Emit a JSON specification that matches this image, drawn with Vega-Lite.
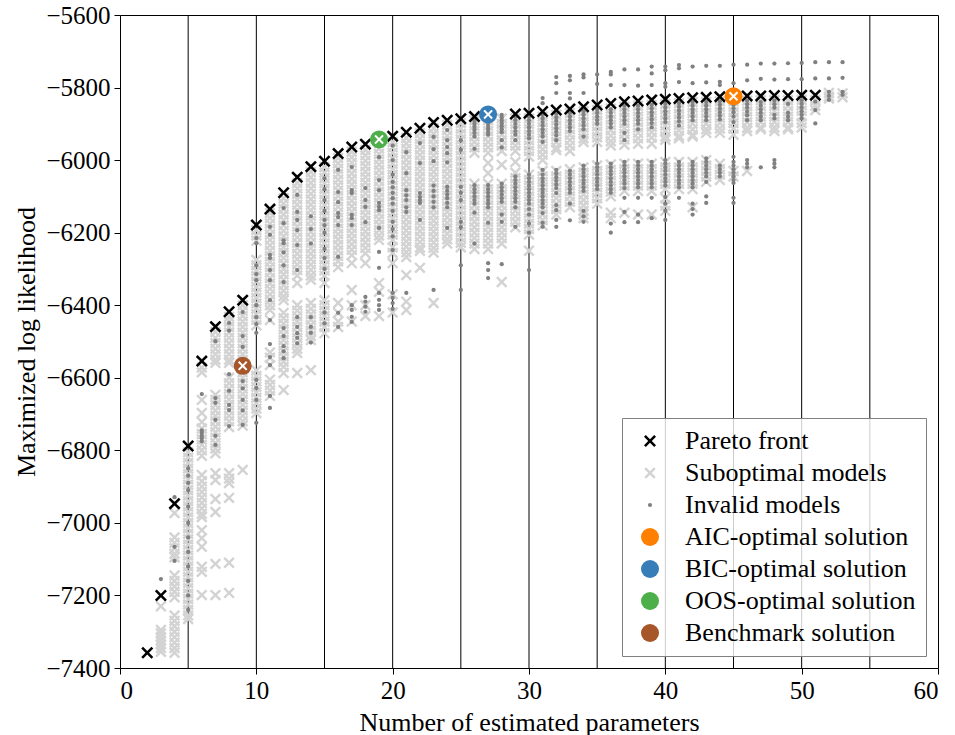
{
"$schema": "https://vega.github.io/schema/vega-lite/v6.json",
"width": 818, "height": 653,
"autosize": {"type": "none"},
"padding": {"left": 120, "top": 15, "right": 17, "bottom": 67},
"config": {
  "view": {"stroke": "#000000", "strokeWidth": 1},
  "font": "Liberation Serif",
  "style": {"guide-label": {"font": "Liberation Serif"}, "guide-title": {"font": "Liberation Serif"}},
  "axis": {"domain": false, "grid": false, "tickColor": "#000000", "tickSize": 6, "tickWidth": 1, "labelColor": "#000000", "titleColor": "#000000", "labelFont": "Liberation Serif", "titleFont": "Liberation Serif", "labelFontSize": 25, "titleFontSize": 26, "titleFontWeight": "normal", "labelPadding": 4}
},
"datasets": {
  "vlines": [{"x":5},{"x":10},{"x":15},{"x":20},{"x":25},{"x":30},{"x":35},{"x":40},{"x":45},{"x":50},{"x":55}],
  "pts": [
{"x":3,"y":-7230,"t":"S"},{"x":3,"y":-7295,"t":"S"},{"x":3,"y":-7305,"t":"S"},{"x":3,"y":-7315,"t":"S"},{"x":3,"y":-7325,"t":"S"},{"x":3,"y":-7335,"t":"S"},{"x":3,"y":-7345,"t":"S"},{"x":3,"y":-7355,"t":"S"},
{"x":4,"y":-6973,"t":"S"},{"x":4,"y":-7040,"t":"S"},{"x":4,"y":-7055,"t":"S"},{"x":4,"y":-7070,"t":"S"},{"x":4,"y":-7085,"t":"S"},{"x":4,"y":-7095,"t":"S"},{"x":4,"y":-7145,"t":"S"},{"x":4,"y":-7160,"t":"S"},{"x":4,"y":-7175,"t":"S"},{"x":4,"y":-7190,"t":"S"},{"x":4,"y":-7205,"t":"S"},{"x":4,"y":-7255,"t":"S"},{"x":4,"y":-7270,"t":"S"},{"x":4,"y":-7285,"t":"S"},{"x":4,"y":-7300,"t":"S"},{"x":4,"y":-7315,"t":"S"},{"x":4,"y":-7330,"t":"S"},{"x":4,"y":-7345,"t":"S"},{"x":4,"y":-7358,"t":"S"},
{"x":5,"y":-6805,"t":"S"},{"x":5,"y":-6820,"t":"S"},{"x":5,"y":-6835,"t":"S"},{"x":5,"y":-6850,"t":"S"},{"x":5,"y":-6865,"t":"S"},{"x":5,"y":-6880,"t":"S"},{"x":5,"y":-6895,"t":"S"},{"x":5,"y":-6910,"t":"S"},{"x":5,"y":-6925,"t":"S"},{"x":5,"y":-6940,"t":"S"},{"x":5,"y":-6955,"t":"S"},{"x":5,"y":-6970,"t":"S"},{"x":5,"y":-6985,"t":"S"},{"x":5,"y":-7000,"t":"S"},{"x":5,"y":-7015,"t":"S"},{"x":5,"y":-7030,"t":"S"},{"x":5,"y":-7045,"t":"S"},{"x":5,"y":-7060,"t":"S"},{"x":5,"y":-7075,"t":"S"},{"x":5,"y":-7090,"t":"S"},{"x":5,"y":-7105,"t":"S"},{"x":5,"y":-7120,"t":"S"},{"x":5,"y":-7135,"t":"S"},{"x":5,"y":-7150,"t":"S"},{"x":5,"y":-7165,"t":"S"},{"x":5,"y":-7180,"t":"S"},{"x":5,"y":-7195,"t":"S"},{"x":5,"y":-7210,"t":"S"},{"x":5,"y":-7225,"t":"S"},{"x":5,"y":-7240,"t":"S"},{"x":5,"y":-7255,"t":"S"},{"x":5,"y":-7265,"t":"S"},
{"x":6,"y":-6572,"t":"S"},{"x":6,"y":-6585,"t":"S"},{"x":6,"y":-6661,"t":"S"},{"x":6,"y":-6697,"t":"S"},{"x":6,"y":-6722,"t":"S"},{"x":6,"y":-6740,"t":"S"},{"x":6,"y":-6755,"t":"S"},{"x":6,"y":-6770,"t":"S"},{"x":6,"y":-6785,"t":"S"},{"x":6,"y":-6800,"t":"S"},{"x":6,"y":-6815,"t":"S"},{"x":6,"y":-6868,"t":"S"},{"x":6,"y":-6885,"t":"S"},{"x":6,"y":-6900,"t":"S"},{"x":6,"y":-6915,"t":"S"},{"x":6,"y":-6930,"t":"S"},{"x":6,"y":-6945,"t":"S"},{"x":6,"y":-6960,"t":"S"},{"x":6,"y":-6975,"t":"S"},{"x":6,"y":-6984,"t":"S"},{"x":6,"y":-7020,"t":"S"},{"x":6,"y":-7042,"t":"S"},{"x":6,"y":-7066,"t":"S"},{"x":6,"y":-7121,"t":"S"},{"x":6,"y":-7135,"t":"S"},{"x":6,"y":-7199,"t":"S"},
{"x":7,"y":-6474,"t":"S"},{"x":7,"y":-6490,"t":"S"},{"x":7,"y":-6505,"t":"S"},{"x":7,"y":-6520,"t":"S"},{"x":7,"y":-6535,"t":"S"},{"x":7,"y":-6550,"t":"S"},{"x":7,"y":-6559,"t":"S"},{"x":7,"y":-6647,"t":"S"},{"x":7,"y":-6661,"t":"S"},{"x":7,"y":-6675,"t":"S"},{"x":7,"y":-6690,"t":"S"},{"x":7,"y":-6705,"t":"S"},{"x":7,"y":-6720,"t":"S"},{"x":7,"y":-6735,"t":"S"},{"x":7,"y":-6750,"t":"S"},{"x":7,"y":-6765,"t":"S"},{"x":7,"y":-6780,"t":"S"},{"x":7,"y":-6795,"t":"S"},{"x":7,"y":-6808,"t":"S"},{"x":7,"y":-6863,"t":"S"},{"x":7,"y":-6882,"t":"S"},{"x":7,"y":-6934,"t":"S"},{"x":7,"y":-6970,"t":"S"},{"x":7,"y":-7113,"t":"S"},{"x":7,"y":-7199,"t":"S"},
{"x":8,"y":-6432,"t":"S"},{"x":8,"y":-6445,"t":"S"},{"x":8,"y":-6460,"t":"S"},{"x":8,"y":-6475,"t":"S"},{"x":8,"y":-6490,"t":"S"},{"x":8,"y":-6505,"t":"S"},{"x":8,"y":-6520,"t":"S"},{"x":8,"y":-6535,"t":"S"},{"x":8,"y":-6550,"t":"S"},{"x":8,"y":-6559,"t":"S"},{"x":8,"y":-6600,"t":"S"},{"x":8,"y":-6615,"t":"S"},{"x":8,"y":-6630,"t":"S"},{"x":8,"y":-6645,"t":"S"},{"x":8,"y":-6660,"t":"S"},{"x":8,"y":-6675,"t":"S"},{"x":8,"y":-6690,"t":"S"},{"x":8,"y":-6705,"t":"S"},{"x":8,"y":-6720,"t":"S"},{"x":8,"y":-6736,"t":"S"},{"x":8,"y":-6863,"t":"S"},{"x":8,"y":-6878,"t":"S"},{"x":8,"y":-6890,"t":"S"},{"x":8,"y":-6931,"t":"S"},{"x":8,"y":-7110,"t":"S"},{"x":8,"y":-7193,"t":"S"},
{"x":9,"y":-6400,"t":"S"},{"x":9,"y":-6415,"t":"S"},{"x":9,"y":-6430,"t":"S"},{"x":9,"y":-6445,"t":"S"},{"x":9,"y":-6460,"t":"S"},{"x":9,"y":-6475,"t":"S"},{"x":9,"y":-6490,"t":"S"},{"x":9,"y":-6505,"t":"S"},{"x":9,"y":-6520,"t":"S"},{"x":9,"y":-6535,"t":"S"},{"x":9,"y":-6551,"t":"S"},{"x":9,"y":-6585,"t":"S"},{"x":9,"y":-6600,"t":"S"},{"x":9,"y":-6615,"t":"S"},{"x":9,"y":-6630,"t":"S"},{"x":9,"y":-6645,"t":"S"},{"x":9,"y":-6660,"t":"S"},{"x":9,"y":-6675,"t":"S"},{"x":9,"y":-6690,"t":"S"},{"x":9,"y":-6705,"t":"S"},{"x":9,"y":-6720,"t":"S"},{"x":9,"y":-6732,"t":"S"},{"x":9,"y":-6854,"t":"S"},
{"x":10,"y":-6193,"t":"S"},{"x":10,"y":-6208,"t":"S"},{"x":10,"y":-6222,"t":"S"},{"x":10,"y":-6275,"t":"S"},{"x":10,"y":-6290,"t":"S"},{"x":10,"y":-6305,"t":"S"},{"x":10,"y":-6320,"t":"S"},{"x":10,"y":-6335,"t":"S"},{"x":10,"y":-6350,"t":"S"},{"x":10,"y":-6365,"t":"S"},{"x":10,"y":-6380,"t":"S"},{"x":10,"y":-6395,"t":"S"},{"x":10,"y":-6410,"t":"S"},{"x":10,"y":-6425,"t":"S"},{"x":10,"y":-6440,"t":"S"},{"x":10,"y":-6455,"t":"S"},{"x":10,"y":-6580,"t":"S"},{"x":10,"y":-6595,"t":"S"},{"x":10,"y":-6610,"t":"S"},{"x":10,"y":-6625,"t":"S"},{"x":10,"y":-6640,"t":"S"},{"x":10,"y":-6655,"t":"S"},{"x":10,"y":-6670,"t":"S"},{"x":10,"y":-6685,"t":"S"},{"x":10,"y":-6697,"t":"S"},
{"x":11,"y":-6146,"t":"S"},{"x":11,"y":-6160,"t":"S"},{"x":11,"y":-6175,"t":"S"},{"x":11,"y":-6190,"t":"S"},{"x":11,"y":-6205,"t":"S"},{"x":11,"y":-6220,"t":"S"},{"x":11,"y":-6235,"t":"S"},{"x":11,"y":-6250,"t":"S"},{"x":11,"y":-6265,"t":"S"},{"x":11,"y":-6280,"t":"S"},{"x":11,"y":-6295,"t":"S"},{"x":11,"y":-6310,"t":"S"},{"x":11,"y":-6325,"t":"S"},{"x":11,"y":-6340,"t":"S"},{"x":11,"y":-6355,"t":"S"},{"x":11,"y":-6370,"t":"S"},{"x":11,"y":-6385,"t":"S"},{"x":11,"y":-6400,"t":"S"},{"x":11,"y":-6413,"t":"S"},{"x":11,"y":-6441,"t":"S"},{"x":11,"y":-6530,"t":"S"},{"x":11,"y":-6545,"t":"S"},{"x":11,"y":-6565,"t":"S"},{"x":11,"y":-6605,"t":"S"},{"x":11,"y":-6620,"t":"S"},{"x":11,"y":-6635,"t":"S"},{"x":11,"y":-6650,"t":"S"},
{"x":12,"y":-6105,"t":"S"},{"x":12,"y":-6120,"t":"S"},{"x":12,"y":-6135,"t":"S"},{"x":12,"y":-6150,"t":"S"},{"x":12,"y":-6165,"t":"S"},{"x":12,"y":-6180,"t":"S"},{"x":12,"y":-6195,"t":"S"},{"x":12,"y":-6210,"t":"S"},{"x":12,"y":-6225,"t":"S"},{"x":12,"y":-6240,"t":"S"},{"x":12,"y":-6255,"t":"S"},{"x":12,"y":-6270,"t":"S"},{"x":12,"y":-6285,"t":"S"},{"x":12,"y":-6300,"t":"S"},{"x":12,"y":-6315,"t":"S"},{"x":12,"y":-6330,"t":"S"},{"x":12,"y":-6345,"t":"S"},{"x":12,"y":-6360,"t":"S"},{"x":12,"y":-6375,"t":"S"},{"x":12,"y":-6386,"t":"S"},{"x":12,"y":-6421,"t":"S"},{"x":12,"y":-6436,"t":"S"},{"x":12,"y":-6451,"t":"S"},{"x":12,"y":-6466,"t":"S"},{"x":12,"y":-6481,"t":"S"},{"x":12,"y":-6496,"t":"S"},{"x":12,"y":-6511,"t":"S"},{"x":12,"y":-6526,"t":"S"},{"x":12,"y":-6541,"t":"S"},{"x":12,"y":-6556,"t":"S"},{"x":12,"y":-6570,"t":"S"},{"x":12,"y":-6587,"t":"S"},{"x":12,"y":-6634,"t":"S"},
{"x":13,"y":-6063,"t":"S"},{"x":13,"y":-6078,"t":"S"},{"x":13,"y":-6093,"t":"S"},{"x":13,"y":-6108,"t":"S"},{"x":13,"y":-6123,"t":"S"},{"x":13,"y":-6138,"t":"S"},{"x":13,"y":-6153,"t":"S"},{"x":13,"y":-6168,"t":"S"},{"x":13,"y":-6183,"t":"S"},{"x":13,"y":-6198,"t":"S"},{"x":13,"y":-6213,"t":"S"},{"x":13,"y":-6228,"t":"S"},{"x":13,"y":-6243,"t":"S"},{"x":13,"y":-6258,"t":"S"},{"x":13,"y":-6273,"t":"S"},{"x":13,"y":-6288,"t":"S"},{"x":13,"y":-6303,"t":"S"},{"x":13,"y":-6318,"t":"S"},{"x":13,"y":-6339,"t":"S"},{"x":13,"y":-6400,"t":"S"},{"x":13,"y":-6415,"t":"S"},{"x":13,"y":-6430,"t":"S"},{"x":13,"y":-6445,"t":"S"},{"x":13,"y":-6460,"t":"S"},{"x":13,"y":-6475,"t":"S"},{"x":13,"y":-6490,"t":"S"},{"x":13,"y":-6505,"t":"S"},{"x":13,"y":-6520,"t":"S"},{"x":13,"y":-6532,"t":"S"},{"x":13,"y":-6587,"t":"S"},
{"x":14,"y":-6033,"t":"S"},{"x":14,"y":-6048,"t":"S"},{"x":14,"y":-6063,"t":"S"},{"x":14,"y":-6078,"t":"S"},{"x":14,"y":-6093,"t":"S"},{"x":14,"y":-6108,"t":"S"},{"x":14,"y":-6123,"t":"S"},{"x":14,"y":-6138,"t":"S"},{"x":14,"y":-6153,"t":"S"},{"x":14,"y":-6168,"t":"S"},{"x":14,"y":-6183,"t":"S"},{"x":14,"y":-6198,"t":"S"},{"x":14,"y":-6213,"t":"S"},{"x":14,"y":-6228,"t":"S"},{"x":14,"y":-6243,"t":"S"},{"x":14,"y":-6258,"t":"S"},{"x":14,"y":-6273,"t":"S"},{"x":14,"y":-6288,"t":"S"},{"x":14,"y":-6303,"t":"S"},{"x":14,"y":-6318,"t":"S"},{"x":14,"y":-6330,"t":"S"},{"x":14,"y":-6394,"t":"S"},{"x":14,"y":-6410,"t":"S"},{"x":14,"y":-6425,"t":"S"},{"x":14,"y":-6440,"t":"S"},{"x":14,"y":-6455,"t":"S"},{"x":14,"y":-6470,"t":"S"},{"x":14,"y":-6485,"t":"S"},{"x":14,"y":-6496,"t":"S"},{"x":14,"y":-6579,"t":"S"},
{"x":15,"y":-6019,"t":"S"},{"x":15,"y":-6034,"t":"S"},{"x":15,"y":-6049,"t":"S"},{"x":15,"y":-6064,"t":"S"},{"x":15,"y":-6079,"t":"S"},{"x":15,"y":-6094,"t":"S"},{"x":15,"y":-6109,"t":"S"},{"x":15,"y":-6124,"t":"S"},{"x":15,"y":-6139,"t":"S"},{"x":15,"y":-6154,"t":"S"},{"x":15,"y":-6169,"t":"S"},{"x":15,"y":-6184,"t":"S"},{"x":15,"y":-6199,"t":"S"},{"x":15,"y":-6214,"t":"S"},{"x":15,"y":-6229,"t":"S"},{"x":15,"y":-6244,"t":"S"},{"x":15,"y":-6259,"t":"S"},{"x":15,"y":-6274,"t":"S"},{"x":15,"y":-6289,"t":"S"},{"x":15,"y":-6304,"t":"S"},{"x":15,"y":-6319,"t":"S"},{"x":15,"y":-6339,"t":"S"},{"x":15,"y":-6386,"t":"S"},{"x":15,"y":-6400,"t":"S"},{"x":15,"y":-6415,"t":"S"},{"x":15,"y":-6430,"t":"S"},{"x":15,"y":-6445,"t":"S"},{"x":15,"y":-6460,"t":"S"},{"x":15,"y":-6477,"t":"S"},
{"x":16,"y":-5994,"t":"S"},{"x":16,"y":-6009,"t":"S"},{"x":16,"y":-6024,"t":"S"},{"x":16,"y":-6039,"t":"S"},{"x":16,"y":-6054,"t":"S"},{"x":16,"y":-6069,"t":"S"},{"x":16,"y":-6084,"t":"S"},{"x":16,"y":-6099,"t":"S"},{"x":16,"y":-6114,"t":"S"},{"x":16,"y":-6129,"t":"S"},{"x":16,"y":-6144,"t":"S"},{"x":16,"y":-6159,"t":"S"},{"x":16,"y":-6174,"t":"S"},{"x":16,"y":-6189,"t":"S"},{"x":16,"y":-6204,"t":"S"},{"x":16,"y":-6219,"t":"S"},{"x":16,"y":-6234,"t":"S"},{"x":16,"y":-6249,"t":"S"},{"x":16,"y":-6264,"t":"S"},{"x":16,"y":-6279,"t":"S"},{"x":16,"y":-6295,"t":"S"},{"x":16,"y":-6394,"t":"S"},{"x":16,"y":-6421,"t":"S"},{"x":16,"y":-6445,"t":"S"},{"x":16,"y":-6460,"t":"S"},
{"x":17,"y":-5977,"t":"S"},{"x":17,"y":-5992,"t":"S"},{"x":17,"y":-6007,"t":"S"},{"x":17,"y":-6022,"t":"S"},{"x":17,"y":-6037,"t":"S"},{"x":17,"y":-6052,"t":"S"},{"x":17,"y":-6067,"t":"S"},{"x":17,"y":-6082,"t":"S"},{"x":17,"y":-6097,"t":"S"},{"x":17,"y":-6112,"t":"S"},{"x":17,"y":-6127,"t":"S"},{"x":17,"y":-6142,"t":"S"},{"x":17,"y":-6157,"t":"S"},{"x":17,"y":-6172,"t":"S"},{"x":17,"y":-6187,"t":"S"},{"x":17,"y":-6202,"t":"S"},{"x":17,"y":-6217,"t":"S"},{"x":17,"y":-6232,"t":"S"},{"x":17,"y":-6247,"t":"S"},{"x":17,"y":-6262,"t":"S"},{"x":17,"y":-6284,"t":"S"},{"x":17,"y":-6358,"t":"S"},{"x":17,"y":-6400,"t":"S"},{"x":17,"y":-6445,"t":"S"},
{"x":18,"y":-5972,"t":"S"},{"x":18,"y":-5987,"t":"S"},{"x":18,"y":-6002,"t":"S"},{"x":18,"y":-6017,"t":"S"},{"x":18,"y":-6032,"t":"S"},{"x":18,"y":-6047,"t":"S"},{"x":18,"y":-6062,"t":"S"},{"x":18,"y":-6077,"t":"S"},{"x":18,"y":-6092,"t":"S"},{"x":18,"y":-6107,"t":"S"},{"x":18,"y":-6122,"t":"S"},{"x":18,"y":-6137,"t":"S"},{"x":18,"y":-6152,"t":"S"},{"x":18,"y":-6167,"t":"S"},{"x":18,"y":-6182,"t":"S"},{"x":18,"y":-6197,"t":"S"},{"x":18,"y":-6212,"t":"S"},{"x":18,"y":-6227,"t":"S"},{"x":18,"y":-6242,"t":"S"},{"x":18,"y":-6257,"t":"S"},{"x":18,"y":-6284,"t":"S"},{"x":18,"y":-6400,"t":"S"},{"x":18,"y":-6430,"t":"S"},
{"x":19,"y":-5953,"t":"S"},{"x":19,"y":-5968,"t":"S"},{"x":19,"y":-5983,"t":"S"},{"x":19,"y":-5998,"t":"S"},{"x":19,"y":-6013,"t":"S"},{"x":19,"y":-6028,"t":"S"},{"x":19,"y":-6043,"t":"S"},{"x":19,"y":-6058,"t":"S"},{"x":19,"y":-6073,"t":"S"},{"x":19,"y":-6088,"t":"S"},{"x":19,"y":-6103,"t":"S"},{"x":19,"y":-6118,"t":"S"},{"x":19,"y":-6133,"t":"S"},{"x":19,"y":-6148,"t":"S"},{"x":19,"y":-6163,"t":"S"},{"x":19,"y":-6178,"t":"S"},{"x":19,"y":-6193,"t":"S"},{"x":19,"y":-6208,"t":"S"},{"x":19,"y":-6220,"t":"S"},{"x":19,"y":-6339,"t":"S"},{"x":19,"y":-6363,"t":"S"},{"x":19,"y":-6430,"t":"S"},
{"x":20,"y":-5950,"t":"S"},{"x":20,"y":-5965,"t":"S"},{"x":20,"y":-5980,"t":"S"},{"x":20,"y":-5995,"t":"S"},{"x":20,"y":-6010,"t":"S"},{"x":20,"y":-6025,"t":"S"},{"x":20,"y":-6040,"t":"S"},{"x":20,"y":-6055,"t":"S"},{"x":20,"y":-6070,"t":"S"},{"x":20,"y":-6085,"t":"S"},{"x":20,"y":-6100,"t":"S"},{"x":20,"y":-6115,"t":"S"},{"x":20,"y":-6130,"t":"S"},{"x":20,"y":-6145,"t":"S"},{"x":20,"y":-6160,"t":"S"},{"x":20,"y":-6175,"t":"S"},{"x":20,"y":-6190,"t":"S"},{"x":20,"y":-6205,"t":"S"},{"x":20,"y":-6220,"t":"S"},{"x":20,"y":-6240,"t":"S"},{"x":20,"y":-6256,"t":"S"},{"x":20,"y":-6284,"t":"S"},{"x":20,"y":-6370,"t":"S"},{"x":20,"y":-6420,"t":"S"},
{"x":21,"y":-5939,"t":"S"},{"x":21,"y":-5954,"t":"S"},{"x":21,"y":-5969,"t":"S"},{"x":21,"y":-5984,"t":"S"},{"x":21,"y":-5999,"t":"S"},{"x":21,"y":-6014,"t":"S"},{"x":21,"y":-6029,"t":"S"},{"x":21,"y":-6044,"t":"S"},{"x":21,"y":-6059,"t":"S"},{"x":21,"y":-6074,"t":"S"},{"x":21,"y":-6089,"t":"S"},{"x":21,"y":-6104,"t":"S"},{"x":21,"y":-6119,"t":"S"},{"x":21,"y":-6134,"t":"S"},{"x":21,"y":-6149,"t":"S"},{"x":21,"y":-6164,"t":"S"},{"x":21,"y":-6179,"t":"S"},{"x":21,"y":-6194,"t":"S"},{"x":21,"y":-6209,"t":"S"},{"x":21,"y":-6224,"t":"S"},{"x":21,"y":-6239,"t":"S"},{"x":21,"y":-6254,"t":"S"},{"x":21,"y":-6267,"t":"S"},{"x":21,"y":-6317,"t":"S"},{"x":21,"y":-6390,"t":"S"},{"x":21,"y":-6413,"t":"S"},
{"x":22,"y":-5926,"t":"S"},{"x":22,"y":-5941,"t":"S"},{"x":22,"y":-5956,"t":"S"},{"x":22,"y":-5971,"t":"S"},{"x":22,"y":-5986,"t":"S"},{"x":22,"y":-6001,"t":"S"},{"x":22,"y":-6016,"t":"S"},{"x":22,"y":-6031,"t":"S"},{"x":22,"y":-6046,"t":"S"},{"x":22,"y":-6061,"t":"S"},{"x":22,"y":-6076,"t":"S"},{"x":22,"y":-6091,"t":"S"},{"x":22,"y":-6106,"t":"S"},{"x":22,"y":-6121,"t":"S"},{"x":22,"y":-6136,"t":"S"},{"x":22,"y":-6151,"t":"S"},{"x":22,"y":-6166,"t":"S"},{"x":22,"y":-6181,"t":"S"},{"x":22,"y":-6196,"t":"S"},{"x":22,"y":-6211,"t":"S"},{"x":22,"y":-6226,"t":"S"},{"x":22,"y":-6241,"t":"S"},{"x":22,"y":-6250,"t":"S"},{"x":22,"y":-6297,"t":"S"},
{"x":23,"y":-5912,"t":"S"},{"x":23,"y":-5927,"t":"S"},{"x":23,"y":-5942,"t":"S"},{"x":23,"y":-5957,"t":"S"},{"x":23,"y":-5972,"t":"S"},{"x":23,"y":-5987,"t":"S"},{"x":23,"y":-6002,"t":"S"},{"x":23,"y":-6017,"t":"S"},{"x":23,"y":-6032,"t":"S"},{"x":23,"y":-6047,"t":"S"},{"x":23,"y":-6062,"t":"S"},{"x":23,"y":-6077,"t":"S"},{"x":23,"y":-6092,"t":"S"},{"x":23,"y":-6107,"t":"S"},{"x":23,"y":-6122,"t":"S"},{"x":23,"y":-6137,"t":"S"},{"x":23,"y":-6152,"t":"S"},{"x":23,"y":-6167,"t":"S"},{"x":23,"y":-6182,"t":"S"},{"x":23,"y":-6197,"t":"S"},{"x":23,"y":-6212,"t":"S"},{"x":23,"y":-6227,"t":"S"},{"x":23,"y":-6242,"t":"S"},{"x":23,"y":-6255,"t":"S"},{"x":23,"y":-6394,"t":"S"},
{"x":24,"y":-5903,"t":"S"},{"x":24,"y":-5918,"t":"S"},{"x":24,"y":-5933,"t":"S"},{"x":24,"y":-5948,"t":"S"},{"x":24,"y":-5963,"t":"S"},{"x":24,"y":-5978,"t":"S"},{"x":24,"y":-5993,"t":"S"},{"x":24,"y":-6008,"t":"S"},{"x":24,"y":-6023,"t":"S"},{"x":24,"y":-6038,"t":"S"},{"x":24,"y":-6053,"t":"S"},{"x":24,"y":-6068,"t":"S"},{"x":24,"y":-6083,"t":"S"},{"x":24,"y":-6098,"t":"S"},{"x":24,"y":-6113,"t":"S"},{"x":24,"y":-6128,"t":"S"},{"x":24,"y":-6143,"t":"S"},{"x":24,"y":-6158,"t":"S"},{"x":24,"y":-6173,"t":"S"},{"x":24,"y":-6188,"t":"S"},{"x":24,"y":-6203,"t":"S"},{"x":24,"y":-6218,"t":"S"},{"x":24,"y":-6230,"t":"S"},
{"x":25,"y":-5898,"t":"S"},{"x":25,"y":-5913,"t":"S"},{"x":25,"y":-5928,"t":"S"},{"x":25,"y":-5943,"t":"S"},{"x":25,"y":-5958,"t":"S"},{"x":25,"y":-5973,"t":"S"},{"x":25,"y":-5988,"t":"S"},{"x":25,"y":-6003,"t":"S"},{"x":25,"y":-6018,"t":"S"},{"x":25,"y":-6033,"t":"S"},{"x":25,"y":-6048,"t":"S"},{"x":25,"y":-6063,"t":"S"},{"x":25,"y":-6078,"t":"S"},{"x":25,"y":-6093,"t":"S"},{"x":25,"y":-6108,"t":"S"},{"x":25,"y":-6123,"t":"S"},{"x":25,"y":-6138,"t":"S"},{"x":25,"y":-6153,"t":"S"},{"x":25,"y":-6168,"t":"S"},{"x":25,"y":-6183,"t":"S"},{"x":25,"y":-6198,"t":"S"},{"x":25,"y":-6213,"t":"S"},{"x":25,"y":-6228,"t":"S"},{"x":25,"y":-6240,"t":"S"},
{"x":26,"y":-5890,"t":"S"},{"x":26,"y":-5905,"t":"S"},{"x":26,"y":-5920,"t":"S"},{"x":26,"y":-5935,"t":"S"},{"x":26,"y":-5950,"t":"S"},{"x":26,"y":-5965,"t":"S"},{"x":26,"y":-5980,"t":"S"},{"x":26,"y":-6065,"t":"S"},{"x":26,"y":-6080,"t":"S"},{"x":26,"y":-6095,"t":"S"},{"x":26,"y":-6110,"t":"S"},{"x":26,"y":-6125,"t":"S"},{"x":26,"y":-6140,"t":"S"},{"x":26,"y":-6155,"t":"S"},{"x":26,"y":-6170,"t":"S"},{"x":26,"y":-6185,"t":"S"},{"x":26,"y":-6200,"t":"S"},{"x":26,"y":-6215,"t":"S"},{"x":26,"y":-6230,"t":"S"},{"x":26,"y":-6245,"t":"S"},
{"x":27,"y":-5890,"t":"S"},{"x":27,"y":-5905,"t":"S"},{"x":27,"y":-5920,"t":"S"},{"x":27,"y":-5935,"t":"S"},{"x":27,"y":-5950,"t":"S"},{"x":27,"y":-5965,"t":"S"},{"x":27,"y":-5980,"t":"S"},{"x":27,"y":-6008,"t":"S"},{"x":27,"y":-6036,"t":"S"},{"x":27,"y":-6065,"t":"S"},{"x":27,"y":-6080,"t":"S"},{"x":27,"y":-6095,"t":"S"},{"x":27,"y":-6110,"t":"S"},{"x":27,"y":-6125,"t":"S"},{"x":27,"y":-6140,"t":"S"},{"x":27,"y":-6155,"t":"S"},{"x":27,"y":-6170,"t":"S"},{"x":27,"y":-6185,"t":"S"},{"x":27,"y":-6200,"t":"S"},{"x":27,"y":-6215,"t":"S"},{"x":27,"y":-6230,"t":"S"},{"x":27,"y":-6245,"t":"S"},
{"x":28,"y":-5885,"t":"S"},{"x":28,"y":-5900,"t":"S"},{"x":28,"y":-5915,"t":"S"},{"x":28,"y":-5930,"t":"S"},{"x":28,"y":-5945,"t":"S"},{"x":28,"y":-5960,"t":"S"},{"x":28,"y":-5975,"t":"S"},{"x":28,"y":-6013,"t":"S"},{"x":28,"y":-6065,"t":"S"},{"x":28,"y":-6080,"t":"S"},{"x":28,"y":-6095,"t":"S"},{"x":28,"y":-6110,"t":"S"},{"x":28,"y":-6125,"t":"S"},{"x":28,"y":-6140,"t":"S"},{"x":28,"y":-6155,"t":"S"},{"x":28,"y":-6170,"t":"S"},{"x":28,"y":-6185,"t":"S"},{"x":28,"y":-6200,"t":"S"},{"x":28,"y":-6215,"t":"S"},{"x":28,"y":-6230,"t":"S"},{"x":28,"y":-6336,"t":"S"},
{"x":29,"y":-5885,"t":"S"},{"x":29,"y":-5900,"t":"S"},{"x":29,"y":-5915,"t":"S"},{"x":29,"y":-5930,"t":"S"},{"x":29,"y":-5945,"t":"S"},{"x":29,"y":-5960,"t":"S"},{"x":29,"y":-5975,"t":"S"},{"x":29,"y":-6005,"t":"S"},{"x":29,"y":-6035,"t":"S"},{"x":29,"y":-6050,"t":"S"},{"x":29,"y":-6065,"t":"S"},{"x":29,"y":-6080,"t":"S"},{"x":29,"y":-6095,"t":"S"},{"x":29,"y":-6110,"t":"S"},{"x":29,"y":-6125,"t":"S"},{"x":29,"y":-6140,"t":"S"},{"x":29,"y":-6155,"t":"S"},{"x":29,"y":-6170,"t":"S"},{"x":29,"y":-6185,"t":"S"},
{"x":30,"y":-5885,"t":"S"},{"x":30,"y":-5900,"t":"S"},{"x":30,"y":-5915,"t":"S"},{"x":30,"y":-5930,"t":"S"},{"x":30,"y":-5945,"t":"S"},{"x":30,"y":-5960,"t":"S"},{"x":30,"y":-5975,"t":"S"},{"x":30,"y":-5990,"t":"S"},{"x":30,"y":-6040,"t":"S"},{"x":30,"y":-6055,"t":"S"},{"x":30,"y":-6070,"t":"S"},{"x":30,"y":-6085,"t":"S"},{"x":30,"y":-6100,"t":"S"},{"x":30,"y":-6115,"t":"S"},{"x":30,"y":-6130,"t":"S"},{"x":30,"y":-6145,"t":"S"},{"x":30,"y":-6160,"t":"S"},{"x":30,"y":-6175,"t":"S"},{"x":30,"y":-6190,"t":"S"},{"x":30,"y":-6205,"t":"S"},{"x":30,"y":-6250,"t":"S"},
{"x":31,"y":-5880,"t":"S"},{"x":31,"y":-5895,"t":"S"},{"x":31,"y":-5910,"t":"S"},{"x":31,"y":-5925,"t":"S"},{"x":31,"y":-5940,"t":"S"},{"x":31,"y":-5955,"t":"S"},{"x":31,"y":-5970,"t":"S"},{"x":31,"y":-5985,"t":"S"},{"x":31,"y":-6000,"t":"S"},{"x":31,"y":-6030,"t":"S"},{"x":31,"y":-6045,"t":"S"},{"x":31,"y":-6060,"t":"S"},{"x":31,"y":-6075,"t":"S"},{"x":31,"y":-6090,"t":"S"},{"x":31,"y":-6105,"t":"S"},{"x":31,"y":-6120,"t":"S"},{"x":31,"y":-6135,"t":"S"},{"x":31,"y":-6150,"t":"S"},{"x":31,"y":-6165,"t":"S"},{"x":31,"y":-6180,"t":"S"},
{"x":32,"y":-5875,"t":"S"},{"x":32,"y":-5890,"t":"S"},{"x":32,"y":-5905,"t":"S"},{"x":32,"y":-5920,"t":"S"},{"x":32,"y":-5935,"t":"S"},{"x":32,"y":-5950,"t":"S"},{"x":32,"y":-5965,"t":"S"},{"x":32,"y":-5972,"t":"S"},{"x":32,"y":-6030,"t":"S"},{"x":32,"y":-6045,"t":"S"},{"x":32,"y":-6060,"t":"S"},{"x":32,"y":-6075,"t":"S"},{"x":32,"y":-6090,"t":"S"},{"x":32,"y":-6105,"t":"S"},{"x":32,"y":-6120,"t":"S"},{"x":32,"y":-6135,"t":"S"},{"x":32,"y":-6150,"t":"S"},
{"x":33,"y":-5870,"t":"S"},{"x":33,"y":-5885,"t":"S"},{"x":33,"y":-5900,"t":"S"},{"x":33,"y":-5915,"t":"S"},{"x":33,"y":-5930,"t":"S"},{"x":33,"y":-5945,"t":"S"},{"x":33,"y":-5960,"t":"S"},{"x":33,"y":-5975,"t":"S"},{"x":33,"y":-6025,"t":"S"},{"x":33,"y":-6040,"t":"S"},{"x":33,"y":-6055,"t":"S"},{"x":33,"y":-6070,"t":"S"},{"x":33,"y":-6085,"t":"S"},{"x":33,"y":-6100,"t":"S"},{"x":33,"y":-6115,"t":"S"},{"x":33,"y":-6130,"t":"S"},
{"x":34,"y":-5865,"t":"S"},{"x":34,"y":-5880,"t":"S"},{"x":34,"y":-5895,"t":"S"},{"x":34,"y":-5910,"t":"S"},{"x":34,"y":-5925,"t":"S"},{"x":34,"y":-5940,"t":"S"},{"x":34,"y":-5950,"t":"S"},{"x":34,"y":-6020,"t":"S"},{"x":34,"y":-6035,"t":"S"},{"x":34,"y":-6050,"t":"S"},{"x":34,"y":-6065,"t":"S"},{"x":34,"y":-6080,"t":"S"},{"x":34,"y":-6095,"t":"S"},{"x":34,"y":-6110,"t":"S"},{"x":34,"y":-6125,"t":"S"},{"x":34,"y":-6140,"t":"S"},{"x":34,"y":-6150,"t":"S"},{"x":34,"y":-6160,"t":"S"},
{"x":35,"y":-5862,"t":"S"},{"x":35,"y":-5877,"t":"S"},{"x":35,"y":-5892,"t":"S"},{"x":35,"y":-5907,"t":"S"},{"x":35,"y":-5922,"t":"S"},{"x":35,"y":-5937,"t":"S"},{"x":35,"y":-5950,"t":"S"},{"x":35,"y":-6015,"t":"S"},{"x":35,"y":-6030,"t":"S"},{"x":35,"y":-6045,"t":"S"},{"x":35,"y":-6060,"t":"S"},{"x":35,"y":-6075,"t":"S"},{"x":35,"y":-6090,"t":"S"},{"x":35,"y":-6105,"t":"S"},{"x":35,"y":-6120,"t":"S"},
{"x":36,"y":-5858,"t":"S"},{"x":36,"y":-5873,"t":"S"},{"x":36,"y":-5888,"t":"S"},{"x":36,"y":-5903,"t":"S"},{"x":36,"y":-5918,"t":"S"},{"x":36,"y":-5933,"t":"S"},{"x":36,"y":-5948,"t":"S"},{"x":36,"y":-5960,"t":"S"},{"x":36,"y":-6012,"t":"S"},{"x":36,"y":-6027,"t":"S"},{"x":36,"y":-6042,"t":"S"},{"x":36,"y":-6057,"t":"S"},{"x":36,"y":-6072,"t":"S"},{"x":36,"y":-6087,"t":"S"},{"x":36,"y":-6100,"t":"S"},{"x":36,"y":-6145,"t":"S"},{"x":36,"y":-6160,"t":"S"},
{"x":37,"y":-5853,"t":"S"},{"x":37,"y":-5868,"t":"S"},{"x":37,"y":-5883,"t":"S"},{"x":37,"y":-5898,"t":"S"},{"x":37,"y":-5913,"t":"S"},{"x":37,"y":-5928,"t":"S"},{"x":37,"y":-5943,"t":"S"},{"x":37,"y":-5958,"t":"S"},{"x":37,"y":-6010,"t":"S"},{"x":37,"y":-6025,"t":"S"},{"x":37,"y":-6040,"t":"S"},{"x":37,"y":-6055,"t":"S"},{"x":37,"y":-6070,"t":"S"},{"x":37,"y":-6085,"t":"S"},{"x":37,"y":-6145,"t":"S"},
{"x":38,"y":-5850,"t":"S"},{"x":38,"y":-5865,"t":"S"},{"x":38,"y":-5880,"t":"S"},{"x":38,"y":-5895,"t":"S"},{"x":38,"y":-5910,"t":"S"},{"x":38,"y":-5925,"t":"S"},{"x":38,"y":-5940,"t":"S"},{"x":38,"y":-5955,"t":"S"},{"x":38,"y":-6010,"t":"S"},{"x":38,"y":-6025,"t":"S"},{"x":38,"y":-6040,"t":"S"},{"x":38,"y":-6055,"t":"S"},{"x":38,"y":-6070,"t":"S"},{"x":38,"y":-6085,"t":"S"},{"x":38,"y":-6150,"t":"S"},
{"x":39,"y":-5848,"t":"S"},{"x":39,"y":-5863,"t":"S"},{"x":39,"y":-5878,"t":"S"},{"x":39,"y":-5893,"t":"S"},{"x":39,"y":-5908,"t":"S"},{"x":39,"y":-5923,"t":"S"},{"x":39,"y":-5938,"t":"S"},{"x":39,"y":-5955,"t":"S"},{"x":39,"y":-6010,"t":"S"},{"x":39,"y":-6025,"t":"S"},{"x":39,"y":-6040,"t":"S"},{"x":39,"y":-6055,"t":"S"},{"x":39,"y":-6070,"t":"S"},{"x":39,"y":-6085,"t":"S"},{"x":39,"y":-6150,"t":"S"},
{"x":40,"y":-5845,"t":"S"},{"x":40,"y":-5860,"t":"S"},{"x":40,"y":-5875,"t":"S"},{"x":40,"y":-5890,"t":"S"},{"x":40,"y":-5905,"t":"S"},{"x":40,"y":-5920,"t":"S"},{"x":40,"y":-5935,"t":"S"},{"x":40,"y":-5944,"t":"S"},{"x":40,"y":-6005,"t":"S"},{"x":40,"y":-6020,"t":"S"},{"x":40,"y":-6035,"t":"S"},{"x":40,"y":-6050,"t":"S"},{"x":40,"y":-6065,"t":"S"},{"x":40,"y":-6080,"t":"S"},{"x":40,"y":-6105,"t":"S"},{"x":40,"y":-6125,"t":"S"},{"x":40,"y":-6140,"t":"S"},
{"x":41,"y":-5843,"t":"S"},{"x":41,"y":-5858,"t":"S"},{"x":41,"y":-5873,"t":"S"},{"x":41,"y":-5888,"t":"S"},{"x":41,"y":-5903,"t":"S"},{"x":41,"y":-5918,"t":"S"},{"x":41,"y":-5933,"t":"S"},{"x":41,"y":-5940,"t":"S"},{"x":41,"y":-6005,"t":"S"},{"x":41,"y":-6020,"t":"S"},{"x":41,"y":-6035,"t":"S"},{"x":41,"y":-6050,"t":"S"},{"x":41,"y":-6065,"t":"S"},{"x":41,"y":-6080,"t":"S"},
{"x":42,"y":-5840,"t":"S"},{"x":42,"y":-5855,"t":"S"},{"x":42,"y":-5870,"t":"S"},{"x":42,"y":-5885,"t":"S"},{"x":42,"y":-5900,"t":"S"},{"x":42,"y":-5915,"t":"S"},{"x":42,"y":-5930,"t":"S"},{"x":42,"y":-5935,"t":"S"},{"x":42,"y":-6005,"t":"S"},{"x":42,"y":-6020,"t":"S"},{"x":42,"y":-6035,"t":"S"},{"x":42,"y":-6050,"t":"S"},{"x":42,"y":-6065,"t":"S"},{"x":42,"y":-6080,"t":"S"},{"x":42,"y":-6130,"t":"S"},
{"x":43,"y":-5840,"t":"S"},{"x":43,"y":-5855,"t":"S"},{"x":43,"y":-5870,"t":"S"},{"x":43,"y":-5885,"t":"S"},{"x":43,"y":-5900,"t":"S"},{"x":43,"y":-5915,"t":"S"},{"x":43,"y":-5925,"t":"S"},{"x":43,"y":-6000,"t":"S"},{"x":43,"y":-6015,"t":"S"},{"x":43,"y":-6030,"t":"S"},{"x":43,"y":-6045,"t":"S"},{"x":43,"y":-6060,"t":"S"},
{"x":44,"y":-5838,"t":"S"},{"x":44,"y":-5853,"t":"S"},{"x":44,"y":-5868,"t":"S"},{"x":44,"y":-5883,"t":"S"},{"x":44,"y":-5898,"t":"S"},{"x":44,"y":-5913,"t":"S"},{"x":44,"y":-5925,"t":"S"},{"x":44,"y":-6010,"t":"S"},{"x":44,"y":-6025,"t":"S"},{"x":44,"y":-6040,"t":"S"},{"x":44,"y":-6055,"t":"S"},
{"x":45,"y":-5838,"t":"S"},{"x":45,"y":-5853,"t":"S"},{"x":45,"y":-5868,"t":"S"},{"x":45,"y":-5883,"t":"S"},{"x":45,"y":-5898,"t":"S"},{"x":45,"y":-5913,"t":"S"},{"x":45,"y":-5930,"t":"S"},{"x":45,"y":-6030,"t":"S"},{"x":45,"y":-6045,"t":"S"},
{"x":46,"y":-5836,"t":"S"},{"x":46,"y":-5851,"t":"S"},{"x":46,"y":-5866,"t":"S"},{"x":46,"y":-5881,"t":"S"},{"x":46,"y":-5896,"t":"S"},{"x":46,"y":-5911,"t":"S"},{"x":46,"y":-5920,"t":"S"},{"x":46,"y":-6030,"t":"S"},
{"x":47,"y":-5835,"t":"S"},{"x":47,"y":-5850,"t":"S"},{"x":47,"y":-5865,"t":"S"},{"x":47,"y":-5880,"t":"S"},{"x":47,"y":-5895,"t":"S"},{"x":47,"y":-5910,"t":"S"},{"x":47,"y":-5915,"t":"S"},
{"x":48,"y":-5835,"t":"S"},{"x":48,"y":-5850,"t":"S"},{"x":48,"y":-5865,"t":"S"},{"x":48,"y":-5880,"t":"S"},{"x":48,"y":-5895,"t":"S"},{"x":48,"y":-5910,"t":"S"},{"x":48,"y":-5920,"t":"S"},
{"x":49,"y":-5835,"t":"S"},{"x":49,"y":-5850,"t":"S"},{"x":49,"y":-5865,"t":"S"},{"x":49,"y":-5880,"t":"S"},{"x":49,"y":-5895,"t":"S"},{"x":49,"y":-5910,"t":"S"},{"x":49,"y":-5915,"t":"S"},
{"x":50,"y":-5834,"t":"S"},{"x":50,"y":-5849,"t":"S"},{"x":50,"y":-5864,"t":"S"},{"x":50,"y":-5879,"t":"S"},{"x":50,"y":-5898,"t":"S"},{"x":50,"y":-5910,"t":"S"},
{"x":51,"y":-5835,"t":"S"},{"x":51,"y":-5850,"t":"S"},{"x":51,"y":-5862,"t":"S"},
{"x":52,"y":-5815,"t":"S"},{"x":52,"y":-5825,"t":"S"},{"x":52,"y":-5830,"t":"S"},
{"x":53,"y":-5816,"t":"S"},{"x":53,"y":-5827,"t":"S"},

{"x":3,"y":-7155,"t":"I"},
{"x":4,"y":-6929,"t":"I"},{"x":4,"y":-7066,"t":"I"},{"x":4,"y":-7105,"t":"I"},
{"x":5,"y":-6850,"t":"I"},{"x":5,"y":-6870,"t":"I"},{"x":5,"y":-6890,"t":"I"},{"x":5,"y":-6910,"t":"I"},{"x":5,"y":-6955,"t":"I"},{"x":5,"y":-7000,"t":"I"},{"x":5,"y":-7040,"t":"I"},{"x":5,"y":-7080,"t":"I"},{"x":5,"y":-7120,"t":"I"},{"x":5,"y":-7160,"t":"I"},{"x":5,"y":-7200,"t":"I"},{"x":5,"y":-7240,"t":"I"},
{"x":6,"y":-6645,"t":"I"},{"x":6,"y":-6745,"t":"I"},{"x":6,"y":-6752,"t":"I"},{"x":6,"y":-6760,"t":"I"},{"x":6,"y":-6767,"t":"I"},{"x":6,"y":-6775,"t":"I"},
{"x":7,"y":-6499,"t":"I"},{"x":7,"y":-6656,"t":"I"},{"x":7,"y":-6669,"t":"I"},{"x":7,"y":-6716,"t":"I"},{"x":7,"y":-6760,"t":"I"},{"x":7,"y":-6785,"t":"I"},
{"x":8,"y":-6449,"t":"I"},{"x":8,"y":-6470,"t":"I"},{"x":8,"y":-6590,"t":"I"},{"x":8,"y":-6636,"t":"I"},{"x":8,"y":-6675,"t":"I"},{"x":8,"y":-6689,"t":"I"},{"x":8,"y":-6733,"t":"I"},
{"x":9,"y":-6419,"t":"I"},{"x":9,"y":-6485,"t":"I"},{"x":9,"y":-6515,"t":"I"},{"x":9,"y":-6609,"t":"I"},{"x":9,"y":-6629,"t":"I"},{"x":9,"y":-6661,"t":"I"},{"x":9,"y":-6690,"t":"I"},{"x":9,"y":-6730,"t":"I"},
{"x":10,"y":-6215,"t":"I"},{"x":10,"y":-6229,"t":"I"},{"x":10,"y":-6290,"t":"I"},{"x":10,"y":-6314,"t":"I"},{"x":10,"y":-6331,"t":"I"},{"x":10,"y":-6400,"t":"I"},{"x":10,"y":-6433,"t":"I"},{"x":10,"y":-6452,"t":"I"},{"x":10,"y":-6476,"t":"I"},{"x":10,"y":-6606,"t":"I"},{"x":10,"y":-6628,"t":"I"},{"x":10,"y":-6661,"t":"I"},{"x":10,"y":-6724,"t":"I"},
{"x":11,"y":-6184,"t":"I"},{"x":11,"y":-6206,"t":"I"},{"x":11,"y":-6261,"t":"I"},{"x":11,"y":-6270,"t":"I"},{"x":11,"y":-6303,"t":"I"},{"x":11,"y":-6331,"t":"I"},{"x":11,"y":-6386,"t":"I"},{"x":11,"y":-6441,"t":"I"},{"x":11,"y":-6507,"t":"I"},{"x":11,"y":-6543,"t":"I"},{"x":11,"y":-6565,"t":"I"},{"x":11,"y":-6650,"t":"I"},{"x":11,"y":-6683,"t":"I"},
{"x":12,"y":-6132,"t":"I"},{"x":12,"y":-6174,"t":"I"},{"x":12,"y":-6221,"t":"I"},{"x":12,"y":-6229,"t":"I"},{"x":12,"y":-6254,"t":"I"},{"x":12,"y":-6290,"t":"I"},{"x":12,"y":-6336,"t":"I"},{"x":12,"y":-6463,"t":"I"},{"x":12,"y":-6485,"t":"I"},{"x":12,"y":-6513,"t":"I"},{"x":12,"y":-6527,"t":"I"},{"x":12,"y":-6546,"t":"I"},
{"x":13,"y":-6096,"t":"I"},{"x":13,"y":-6143,"t":"I"},{"x":13,"y":-6165,"t":"I"},{"x":13,"y":-6193,"t":"I"},{"x":13,"y":-6234,"t":"I"},{"x":13,"y":-6303,"t":"I"},{"x":13,"y":-6433,"t":"I"},{"x":13,"y":-6460,"t":"I"},{"x":13,"y":-6477,"t":"I"},{"x":13,"y":-6490,"t":"I"},{"x":13,"y":-6505,"t":"I"},
{"x":14,"y":-6155,"t":"I"},{"x":14,"y":-6190,"t":"I"},{"x":14,"y":-6230,"t":"I"},{"x":14,"y":-6433,"t":"I"},{"x":14,"y":-6460,"t":"I"},{"x":14,"y":-6476,"t":"I"},{"x":14,"y":-6503,"t":"I"},
{"x":15,"y":-6050,"t":"I"},{"x":15,"y":-6080,"t":"I"},{"x":15,"y":-6110,"t":"I"},{"x":15,"y":-6140,"t":"I"},{"x":15,"y":-6165,"t":"I"},{"x":15,"y":-6180,"t":"I"},{"x":15,"y":-6200,"t":"I"},{"x":15,"y":-6245,"t":"I"},{"x":15,"y":-6270,"t":"I"},{"x":15,"y":-6300,"t":"I"},{"x":15,"y":-6420,"t":"I"},{"x":15,"y":-6450,"t":"I"},
{"x":16,"y":-6027,"t":"I"},{"x":16,"y":-6088,"t":"I"},{"x":16,"y":-6116,"t":"I"},{"x":16,"y":-6146,"t":"I"},{"x":16,"y":-6157,"t":"I"},{"x":16,"y":-6179,"t":"I"},{"x":16,"y":-6267,"t":"I"},{"x":16,"y":-6421,"t":"I"},{"x":16,"y":-6460,"t":"I"},
{"x":17,"y":-6019,"t":"I"},{"x":17,"y":-6083,"t":"I"},{"x":17,"y":-6091,"t":"I"},{"x":17,"y":-6151,"t":"I"},{"x":17,"y":-6160,"t":"I"},{"x":17,"y":-6179,"t":"I"},{"x":17,"y":-6400,"t":"I"},{"x":17,"y":-6413,"t":"I"},{"x":17,"y":-6432,"t":"I"},{"x":17,"y":-6446,"t":"I"},
{"x":18,"y":-6077,"t":"I"},{"x":18,"y":-6110,"t":"I"},{"x":18,"y":-6129,"t":"I"},{"x":18,"y":-6171,"t":"I"},{"x":18,"y":-6377,"t":"I"},{"x":18,"y":-6390,"t":"I"},{"x":18,"y":-6404,"t":"I"},{"x":18,"y":-6418,"t":"I"},
{"x":19,"y":-5992,"t":"I"},{"x":19,"y":-6055,"t":"I"},{"x":19,"y":-6083,"t":"I"},{"x":19,"y":-6118,"t":"I"},{"x":19,"y":-6129,"t":"I"},{"x":19,"y":-6138,"t":"I"},{"x":19,"y":-6187,"t":"I"},{"x":19,"y":-6253,"t":"I"},{"x":19,"y":-6297,"t":"I"},{"x":19,"y":-6366,"t":"I"},{"x":19,"y":-6385,"t":"I"},{"x":19,"y":-6400,"t":"I"},{"x":19,"y":-6413,"t":"I"},
{"x":20,"y":-5960,"t":"I"},{"x":20,"y":-6000,"t":"I"},{"x":20,"y":-6040,"t":"I"},{"x":20,"y":-6060,"t":"I"},{"x":20,"y":-6075,"t":"I"},{"x":20,"y":-6090,"t":"I"},{"x":20,"y":-6105,"t":"I"},{"x":20,"y":-6120,"t":"I"},{"x":20,"y":-6140,"t":"I"},{"x":20,"y":-6170,"t":"I"},{"x":20,"y":-6190,"t":"I"},{"x":20,"y":-6210,"t":"I"},{"x":20,"y":-6248,"t":"I"},{"x":20,"y":-6366,"t":"I"},{"x":20,"y":-6380,"t":"I"},{"x":20,"y":-6394,"t":"I"},{"x":20,"y":-6410,"t":"I"},
{"x":21,"y":-5978,"t":"I"},{"x":21,"y":-6036,"t":"I"},{"x":21,"y":-6083,"t":"I"},{"x":21,"y":-6097,"t":"I"},{"x":21,"y":-6110,"t":"I"},{"x":21,"y":-6130,"t":"I"},{"x":21,"y":-6143,"t":"I"},{"x":21,"y":-6366,"t":"I"},
{"x":22,"y":-5953,"t":"I"},{"x":22,"y":-6008,"t":"I"},{"x":22,"y":-6091,"t":"I"},{"x":22,"y":-6102,"t":"I"},{"x":22,"y":-6110,"t":"I"},{"x":22,"y":-6118,"t":"I"},{"x":22,"y":-6165,"t":"I"},
{"x":23,"y":-5936,"t":"I"},{"x":23,"y":-5970,"t":"I"},{"x":23,"y":-6003,"t":"I"},{"x":23,"y":-6070,"t":"I"},{"x":23,"y":-6085,"t":"I"},{"x":23,"y":-6100,"t":"I"},{"x":23,"y":-6115,"t":"I"},{"x":23,"y":-6130,"t":"I"},{"x":23,"y":-6358,"t":"I"},
{"x":24,"y":-5917,"t":"I"},{"x":24,"y":-5945,"t":"I"},{"x":24,"y":-5964,"t":"I"},{"x":24,"y":-5981,"t":"I"},{"x":24,"y":-6006,"t":"I"},{"x":24,"y":-6074,"t":"I"},{"x":24,"y":-6085,"t":"I"},{"x":24,"y":-6095,"t":"I"},{"x":24,"y":-6105,"t":"I"},{"x":24,"y":-6118,"t":"I"},{"x":24,"y":-6130,"t":"I"},{"x":24,"y":-6187,"t":"I"},
{"x":25,"y":-5945,"t":"I"},{"x":25,"y":-5972,"t":"I"},{"x":25,"y":-6074,"t":"I"},{"x":25,"y":-6090,"t":"I"},{"x":25,"y":-6110,"t":"I"},{"x":25,"y":-6170,"t":"I"},{"x":25,"y":-6185,"t":"I"},{"x":25,"y":-6290,"t":"I"},{"x":25,"y":-6358,"t":"I"},
{"x":26,"y":-5892,"t":"I"},{"x":26,"y":-5900,"t":"I"},{"x":26,"y":-5908,"t":"I"},{"x":26,"y":-5916,"t":"I"},{"x":26,"y":-5925,"t":"I"},{"x":26,"y":-5935,"t":"I"},{"x":26,"y":-5969,"t":"I"},{"x":26,"y":-6069,"t":"I"},{"x":26,"y":-6080,"t":"I"},{"x":26,"y":-6090,"t":"I"},{"x":26,"y":-6100,"t":"I"},{"x":26,"y":-6110,"t":"I"},{"x":26,"y":-6120,"t":"I"},{"x":26,"y":-6145,"t":"I"},{"x":26,"y":-6230,"t":"I"},
{"x":27,"y":-5890,"t":"I"},{"x":27,"y":-5898,"t":"I"},{"x":27,"y":-5906,"t":"I"},{"x":27,"y":-5914,"t":"I"},{"x":27,"y":-5922,"t":"I"},{"x":27,"y":-5930,"t":"I"},{"x":27,"y":-6069,"t":"I"},{"x":27,"y":-6080,"t":"I"},{"x":27,"y":-6090,"t":"I"},{"x":27,"y":-6100,"t":"I"},{"x":27,"y":-6110,"t":"I"},{"x":27,"y":-6120,"t":"I"},{"x":27,"y":-6130,"t":"I"},{"x":27,"y":-6173,"t":"I"},{"x":27,"y":-6284,"t":"I"},{"x":27,"y":-6303,"t":"I"},{"x":27,"y":-6325,"t":"I"},
{"x":28,"y":-5875,"t":"I"},{"x":28,"y":-5883,"t":"I"},{"x":28,"y":-5891,"t":"I"},{"x":28,"y":-5899,"t":"I"},{"x":28,"y":-5907,"t":"I"},{"x":28,"y":-5915,"t":"I"},{"x":28,"y":-5923,"t":"I"},{"x":28,"y":-5945,"t":"I"},{"x":28,"y":-5965,"t":"I"},{"x":28,"y":-6065,"t":"I"},{"x":28,"y":-6075,"t":"I"},{"x":28,"y":-6085,"t":"I"},{"x":28,"y":-6095,"t":"I"},{"x":28,"y":-6105,"t":"I"},{"x":28,"y":-6115,"t":"I"},{"x":28,"y":-6150,"t":"I"},{"x":28,"y":-6170,"t":"I"},{"x":28,"y":-6287,"t":"I"},
{"x":29,"y":-5880,"t":"I"},{"x":29,"y":-5890,"t":"I"},{"x":29,"y":-5900,"t":"I"},{"x":29,"y":-5910,"t":"I"},{"x":29,"y":-5920,"t":"I"},{"x":29,"y":-5930,"t":"I"},{"x":29,"y":-5945,"t":"I"},{"x":29,"y":-6045,"t":"I"},{"x":29,"y":-6055,"t":"I"},{"x":29,"y":-6065,"t":"I"},{"x":29,"y":-6075,"t":"I"},{"x":29,"y":-6085,"t":"I"},{"x":29,"y":-6095,"t":"I"},{"x":29,"y":-6105,"t":"I"},{"x":29,"y":-6115,"t":"I"},{"x":29,"y":-6130,"t":"I"},{"x":29,"y":-6184,"t":"I"},
{"x":30,"y":-5880,"t":"I"},{"x":30,"y":-5890,"t":"I"},{"x":30,"y":-5900,"t":"I"},{"x":30,"y":-5910,"t":"I"},{"x":30,"y":-5920,"t":"I"},{"x":30,"y":-5930,"t":"I"},{"x":30,"y":-5940,"t":"I"},{"x":30,"y":-6040,"t":"I"},{"x":30,"y":-6050,"t":"I"},{"x":30,"y":-6060,"t":"I"},{"x":30,"y":-6070,"t":"I"},{"x":30,"y":-6080,"t":"I"},{"x":30,"y":-6090,"t":"I"},{"x":30,"y":-6100,"t":"I"},{"x":30,"y":-6110,"t":"I"},{"x":30,"y":-6120,"t":"I"},{"x":30,"y":-6135,"t":"I"},{"x":30,"y":-6150,"t":"I"},{"x":30,"y":-6175,"t":"I"},{"x":30,"y":-6200,"t":"I"},{"x":30,"y":-6303,"t":"I"},
{"x":31,"y":-5829,"t":"I"},{"x":31,"y":-5843,"t":"I"},{"x":31,"y":-5875,"t":"I"},{"x":31,"y":-5885,"t":"I"},{"x":31,"y":-5895,"t":"I"},{"x":31,"y":-5905,"t":"I"},{"x":31,"y":-5915,"t":"I"},{"x":31,"y":-5925,"t":"I"},{"x":31,"y":-5935,"t":"I"},{"x":31,"y":-5950,"t":"I"},{"x":31,"y":-6027,"t":"I"},{"x":31,"y":-6040,"t":"I"},{"x":31,"y":-6050,"t":"I"},{"x":31,"y":-6060,"t":"I"},{"x":31,"y":-6070,"t":"I"},{"x":31,"y":-6080,"t":"I"},{"x":31,"y":-6090,"t":"I"},{"x":31,"y":-6100,"t":"I"},{"x":31,"y":-6110,"t":"I"},{"x":31,"y":-6120,"t":"I"},{"x":31,"y":-6130,"t":"I"},{"x":31,"y":-6146,"t":"I"},{"x":31,"y":-6173,"t":"I"},{"x":31,"y":-6184,"t":"I"},
{"x":32,"y":-5771,"t":"I"},{"x":32,"y":-5788,"t":"I"},{"x":32,"y":-5815,"t":"I"},{"x":32,"y":-5872,"t":"I"},{"x":32,"y":-5882,"t":"I"},{"x":32,"y":-5892,"t":"I"},{"x":32,"y":-5902,"t":"I"},{"x":32,"y":-5912,"t":"I"},{"x":32,"y":-5922,"t":"I"},{"x":32,"y":-5932,"t":"I"},{"x":32,"y":-5945,"t":"I"},{"x":32,"y":-6027,"t":"I"},{"x":32,"y":-6037,"t":"I"},{"x":32,"y":-6047,"t":"I"},{"x":32,"y":-6057,"t":"I"},{"x":32,"y":-6067,"t":"I"},{"x":32,"y":-6077,"t":"I"},{"x":32,"y":-6091,"t":"I"},{"x":32,"y":-6124,"t":"I"},{"x":32,"y":-6138,"t":"I"},{"x":32,"y":-6165,"t":"I"},{"x":32,"y":-6184,"t":"I"},
{"x":33,"y":-5768,"t":"I"},{"x":33,"y":-5780,"t":"I"},{"x":33,"y":-5815,"t":"I"},{"x":33,"y":-5830,"t":"I"},{"x":33,"y":-5870,"t":"I"},{"x":33,"y":-5880,"t":"I"},{"x":33,"y":-5890,"t":"I"},{"x":33,"y":-5900,"t":"I"},{"x":33,"y":-5910,"t":"I"},{"x":33,"y":-5920,"t":"I"},{"x":33,"y":-6030,"t":"I"},{"x":33,"y":-6040,"t":"I"},{"x":33,"y":-6050,"t":"I"},{"x":33,"y":-6060,"t":"I"},{"x":33,"y":-6070,"t":"I"},{"x":33,"y":-6080,"t":"I"},{"x":33,"y":-6090,"t":"I"},{"x":33,"y":-6120,"t":"I"},{"x":33,"y":-6166,"t":"I"},
{"x":34,"y":-5764,"t":"I"},{"x":34,"y":-5772,"t":"I"},{"x":34,"y":-5815,"t":"I"},{"x":34,"y":-5865,"t":"I"},{"x":34,"y":-5875,"t":"I"},{"x":34,"y":-5885,"t":"I"},{"x":34,"y":-5895,"t":"I"},{"x":34,"y":-5905,"t":"I"},{"x":34,"y":-5915,"t":"I"},{"x":34,"y":-5935,"t":"I"},{"x":34,"y":-6015,"t":"I"},{"x":34,"y":-6025,"t":"I"},{"x":34,"y":-6035,"t":"I"},{"x":34,"y":-6045,"t":"I"},{"x":34,"y":-6055,"t":"I"},{"x":34,"y":-6065,"t":"I"},{"x":34,"y":-6075,"t":"I"},{"x":34,"y":-6085,"t":"I"},{"x":34,"y":-6140,"t":"I"},{"x":34,"y":-6155,"t":"I"},{"x":34,"y":-6170,"t":"I"},
{"x":35,"y":-5764,"t":"I"},{"x":35,"y":-5790,"t":"I"},{"x":35,"y":-5860,"t":"I"},{"x":35,"y":-5870,"t":"I"},{"x":35,"y":-5880,"t":"I"},{"x":35,"y":-5890,"t":"I"},{"x":35,"y":-5900,"t":"I"},{"x":35,"y":-6010,"t":"I"},{"x":35,"y":-6020,"t":"I"},{"x":35,"y":-6030,"t":"I"},{"x":35,"y":-6040,"t":"I"},{"x":35,"y":-6050,"t":"I"},{"x":35,"y":-6060,"t":"I"},{"x":35,"y":-6070,"t":"I"},{"x":35,"y":-6080,"t":"I"},
{"x":36,"y":-5757,"t":"I"},{"x":36,"y":-5764,"t":"I"},{"x":36,"y":-5793,"t":"I"},{"x":36,"y":-5860,"t":"I"},{"x":36,"y":-5870,"t":"I"},{"x":36,"y":-5880,"t":"I"},{"x":36,"y":-5890,"t":"I"},{"x":36,"y":-5900,"t":"I"},{"x":36,"y":-5910,"t":"I"},{"x":36,"y":-6010,"t":"I"},{"x":36,"y":-6020,"t":"I"},{"x":36,"y":-6030,"t":"I"},{"x":36,"y":-6040,"t":"I"},{"x":36,"y":-6050,"t":"I"},{"x":36,"y":-6060,"t":"I"},{"x":36,"y":-6070,"t":"I"},{"x":36,"y":-6080,"t":"I"},{"x":36,"y":-6090,"t":"I"},{"x":36,"y":-6175,"t":"I"},{"x":36,"y":-6200,"t":"I"},
{"x":37,"y":-5750,"t":"I"},{"x":37,"y":-5793,"t":"I"},{"x":37,"y":-5850,"t":"I"},{"x":37,"y":-5860,"t":"I"},{"x":37,"y":-5870,"t":"I"},{"x":37,"y":-5880,"t":"I"},{"x":37,"y":-5890,"t":"I"},{"x":37,"y":-5900,"t":"I"},{"x":37,"y":-5925,"t":"I"},{"x":37,"y":-5945,"t":"I"},{"x":37,"y":-6005,"t":"I"},{"x":37,"y":-6015,"t":"I"},{"x":37,"y":-6025,"t":"I"},{"x":37,"y":-6035,"t":"I"},{"x":37,"y":-6045,"t":"I"},{"x":37,"y":-6055,"t":"I"},{"x":37,"y":-6065,"t":"I"},{"x":37,"y":-6077,"t":"I"},{"x":37,"y":-6104,"t":"I"},{"x":37,"y":-6143,"t":"I"},{"x":37,"y":-6171,"t":"I"},
{"x":38,"y":-5750,"t":"I"},{"x":38,"y":-5795,"t":"I"},{"x":38,"y":-5850,"t":"I"},{"x":38,"y":-5860,"t":"I"},{"x":38,"y":-5870,"t":"I"},{"x":38,"y":-5880,"t":"I"},{"x":38,"y":-5890,"t":"I"},{"x":38,"y":-5900,"t":"I"},{"x":38,"y":-5915,"t":"I"},{"x":38,"y":-6005,"t":"I"},{"x":38,"y":-6015,"t":"I"},{"x":38,"y":-6025,"t":"I"},{"x":38,"y":-6035,"t":"I"},{"x":38,"y":-6045,"t":"I"},{"x":38,"y":-6055,"t":"I"},{"x":38,"y":-6065,"t":"I"},{"x":38,"y":-6075,"t":"I"},{"x":38,"y":-6104,"t":"I"},{"x":38,"y":-6150,"t":"I"},{"x":38,"y":-6171,"t":"I"},
{"x":39,"y":-5742,"t":"I"},{"x":39,"y":-5761,"t":"I"},{"x":39,"y":-5793,"t":"I"},{"x":39,"y":-5848,"t":"I"},{"x":39,"y":-5858,"t":"I"},{"x":39,"y":-5868,"t":"I"},{"x":39,"y":-5878,"t":"I"},{"x":39,"y":-5888,"t":"I"},{"x":39,"y":-5898,"t":"I"},{"x":39,"y":-5910,"t":"I"},{"x":39,"y":-6005,"t":"I"},{"x":39,"y":-6015,"t":"I"},{"x":39,"y":-6025,"t":"I"},{"x":39,"y":-6035,"t":"I"},{"x":39,"y":-6045,"t":"I"},{"x":39,"y":-6055,"t":"I"},{"x":39,"y":-6065,"t":"I"},{"x":39,"y":-6075,"t":"I"},{"x":39,"y":-6104,"t":"I"},{"x":39,"y":-6160,"t":"I"},
{"x":40,"y":-5742,"t":"I"},{"x":40,"y":-5752,"t":"I"},{"x":40,"y":-5788,"t":"I"},{"x":40,"y":-5798,"t":"I"},{"x":40,"y":-5845,"t":"I"},{"x":40,"y":-5855,"t":"I"},{"x":40,"y":-5865,"t":"I"},{"x":40,"y":-5875,"t":"I"},{"x":40,"y":-5885,"t":"I"},{"x":40,"y":-5895,"t":"I"},{"x":40,"y":-6000,"t":"I"},{"x":40,"y":-6010,"t":"I"},{"x":40,"y":-6020,"t":"I"},{"x":40,"y":-6030,"t":"I"},{"x":40,"y":-6040,"t":"I"},{"x":40,"y":-6050,"t":"I"},{"x":40,"y":-6060,"t":"I"},{"x":40,"y":-6070,"t":"I"},{"x":40,"y":-6102,"t":"I"},{"x":40,"y":-6120,"t":"I"},{"x":40,"y":-6140,"t":"I"},{"x":40,"y":-6165,"t":"I"},
{"x":41,"y":-5738,"t":"I"},{"x":41,"y":-5747,"t":"I"},{"x":41,"y":-5785,"t":"I"},{"x":41,"y":-5843,"t":"I"},{"x":41,"y":-5853,"t":"I"},{"x":41,"y":-5863,"t":"I"},{"x":41,"y":-5873,"t":"I"},{"x":41,"y":-5883,"t":"I"},{"x":41,"y":-5893,"t":"I"},{"x":41,"y":-5905,"t":"I"},{"x":41,"y":-6005,"t":"I"},{"x":41,"y":-6015,"t":"I"},{"x":41,"y":-6025,"t":"I"},{"x":41,"y":-6035,"t":"I"},{"x":41,"y":-6045,"t":"I"},{"x":41,"y":-6055,"t":"I"},{"x":41,"y":-6065,"t":"I"},{"x":41,"y":-6075,"t":"I"},{"x":41,"y":-6104,"t":"I"},
{"x":42,"y":-5742,"t":"I"},{"x":42,"y":-5788,"t":"I"},{"x":42,"y":-5840,"t":"I"},{"x":42,"y":-5850,"t":"I"},{"x":42,"y":-5860,"t":"I"},{"x":42,"y":-5870,"t":"I"},{"x":42,"y":-5880,"t":"I"},{"x":42,"y":-5890,"t":"I"},{"x":42,"y":-6005,"t":"I"},{"x":42,"y":-6015,"t":"I"},{"x":42,"y":-6025,"t":"I"},{"x":42,"y":-6035,"t":"I"},{"x":42,"y":-6045,"t":"I"},{"x":42,"y":-6055,"t":"I"},{"x":42,"y":-6065,"t":"I"},{"x":42,"y":-6075,"t":"I"},{"x":42,"y":-6120,"t":"I"},{"x":42,"y":-6135,"t":"I"},{"x":42,"y":-6150,"t":"I"},
{"x":43,"y":-5740,"t":"I"},{"x":43,"y":-5786,"t":"I"},{"x":43,"y":-5840,"t":"I"},{"x":43,"y":-5850,"t":"I"},{"x":43,"y":-5860,"t":"I"},{"x":43,"y":-5870,"t":"I"},{"x":43,"y":-5880,"t":"I"},{"x":43,"y":-5890,"t":"I"},{"x":43,"y":-5995,"t":"I"},{"x":43,"y":-6005,"t":"I"},{"x":43,"y":-6015,"t":"I"},{"x":43,"y":-6025,"t":"I"},{"x":43,"y":-6035,"t":"I"},{"x":43,"y":-6045,"t":"I"},{"x":43,"y":-6060,"t":"I"},{"x":43,"y":-6100,"t":"I"},{"x":43,"y":-6118,"t":"I"},
{"x":44,"y":-5740,"t":"I"},{"x":44,"y":-5784,"t":"I"},{"x":44,"y":-5793,"t":"I"},{"x":44,"y":-5838,"t":"I"},{"x":44,"y":-5848,"t":"I"},{"x":44,"y":-5858,"t":"I"},{"x":44,"y":-5868,"t":"I"},{"x":44,"y":-5878,"t":"I"},{"x":44,"y":-5888,"t":"I"},{"x":44,"y":-6015,"t":"I"},{"x":44,"y":-6025,"t":"I"},{"x":44,"y":-6035,"t":"I"},{"x":44,"y":-6045,"t":"I"},
{"x":45,"y":-5737,"t":"I"},{"x":45,"y":-5788,"t":"I"},{"x":45,"y":-5838,"t":"I"},{"x":45,"y":-5848,"t":"I"},{"x":45,"y":-5858,"t":"I"},{"x":45,"y":-5868,"t":"I"},{"x":45,"y":-5880,"t":"I"},{"x":45,"y":-5895,"t":"I"},{"x":45,"y":-5991,"t":"I"},{"x":45,"y":-6005,"t":"I"},{"x":45,"y":-6015,"t":"I"},{"x":45,"y":-6025,"t":"I"},{"x":45,"y":-6035,"t":"I"},{"x":45,"y":-6045,"t":"I"},{"x":45,"y":-6055,"t":"I"},{"x":45,"y":-6063,"t":"I"},{"x":45,"y":-6104,"t":"I"},{"x":45,"y":-6118,"t":"I"},
{"x":46,"y":-5737,"t":"I"},{"x":46,"y":-5780,"t":"I"},{"x":46,"y":-5836,"t":"I"},{"x":46,"y":-5846,"t":"I"},{"x":46,"y":-5856,"t":"I"},{"x":46,"y":-5866,"t":"I"},{"x":46,"y":-5876,"t":"I"},{"x":46,"y":-5890,"t":"I"},{"x":46,"y":-6000,"t":"I"},{"x":46,"y":-6010,"t":"I"},{"x":46,"y":-6020,"t":"I"},
{"x":47,"y":-5734,"t":"I"},{"x":47,"y":-5776,"t":"I"},{"x":47,"y":-5840,"t":"I"},{"x":47,"y":-5850,"t":"I"},{"x":47,"y":-5860,"t":"I"},{"x":47,"y":-5870,"t":"I"},{"x":47,"y":-5880,"t":"I"},{"x":47,"y":-5890,"t":"I"},{"x":47,"y":-6020,"t":"I"},
{"x":48,"y":-5734,"t":"I"},{"x":48,"y":-5778,"t":"I"},{"x":48,"y":-5836,"t":"I"},{"x":48,"y":-5846,"t":"I"},{"x":48,"y":-5856,"t":"I"},{"x":48,"y":-5875,"t":"I"},{"x":48,"y":-5885,"t":"I"},{"x":48,"y":-6000,"t":"I"},{"x":48,"y":-6010,"t":"I"},{"x":48,"y":-6020,"t":"I"},
{"x":49,"y":-5733,"t":"I"},{"x":49,"y":-5777,"t":"I"},{"x":49,"y":-5845,"t":"I"},{"x":49,"y":-5870,"t":"I"},{"x":49,"y":-5880,"t":"I"},{"x":49,"y":-5890,"t":"I"},
{"x":50,"y":-5732,"t":"I"},{"x":50,"y":-5777,"t":"I"},{"x":50,"y":-5835,"t":"I"},{"x":50,"y":-5845,"t":"I"},{"x":50,"y":-5855,"t":"I"},{"x":50,"y":-5865,"t":"I"},{"x":50,"y":-5875,"t":"I"},{"x":50,"y":-5885,"t":"I"},
{"x":51,"y":-5730,"t":"I"},{"x":51,"y":-5775,"t":"I"},{"x":51,"y":-5839,"t":"I"},{"x":51,"y":-5862,"t":"I"},{"x":51,"y":-5899,"t":"I"},
{"x":52,"y":-5730,"t":"I"},{"x":52,"y":-5775,"t":"I"},{"x":52,"y":-5812,"t":"I"},{"x":52,"y":-5823,"t":"I"},{"x":52,"y":-5834,"t":"I"},
{"x":53,"y":-5730,"t":"I"},{"x":53,"y":-5773,"t":"I"},{"x":53,"y":-5812,"t":"I"},{"x":53,"y":-5820,"t":"I"},

{"x":2,"y":-7358,"t":"P"},{"x":3,"y":-7200,"t":"P"},{"x":4,"y":-6947,"t":"P"},{"x":5,"y":-6788,"t":"P"},{"x":6,"y":-6554,"t":"P"},{"x":7,"y":-6459,"t":"P"},{"x":8,"y":-6418,"t":"P"},{"x":9,"y":-6386,"t":"P"},{"x":10,"y":-6179,"t":"P"},{"x":11,"y":-6135,"t":"P"},{"x":12,"y":-6090,"t":"P"},{"x":13,"y":-6047,"t":"P"},{"x":14,"y":-6018,"t":"P"},{"x":15,"y":-6003,"t":"P"},{"x":16,"y":-5982,"t":"P"},{"x":17,"y":-5964,"t":"P"},{"x":18,"y":-5956,"t":"P"},{"x":19,"y":-5943,"t":"P"},{"x":20,"y":-5934,"t":"P"},{"x":21,"y":-5923,"t":"P"},{"x":22,"y":-5912,"t":"P"},{"x":23,"y":-5896,"t":"P"},{"x":24,"y":-5890,"t":"P"},{"x":25,"y":-5886,"t":"P"},{"x":26,"y":-5880,"t":"P"},{"x":27,"y":-5874,"t":"P"},{"x":29,"y":-5873,"t":"P"},{"x":30,"y":-5871,"t":"P"},{"x":31,"y":-5866,"t":"P"},{"x":32,"y":-5862,"t":"P"},{"x":33,"y":-5859,"t":"P"},{"x":34,"y":-5853,"t":"P"},{"x":35,"y":-5848,"t":"P"},{"x":36,"y":-5844,"t":"P"},{"x":37,"y":-5839,"t":"P"},{"x":38,"y":-5837,"t":"P"},{"x":39,"y":-5834,"t":"P"},{"x":40,"y":-5832,"t":"P"},{"x":41,"y":-5830,"t":"P"},{"x":42,"y":-5828,"t":"P"},{"x":43,"y":-5827,"t":"P"},{"x":44,"y":-5825,"t":"P"},{"x":45,"y":-5824,"t":"P"},{"x":46,"y":-5823,"t":"P"},{"x":47,"y":-5823,"t":"P"},{"x":48,"y":-5822,"t":"P"},{"x":49,"y":-5822,"t":"P"},{"x":50,"y":-5821,"t":"P"},{"x":51,"y":-5821,"t":"P"},

{"x":45,"y":-5824,"t":"A"},{"x":27,"y":-5874,"t":"B"},{"x":19,"y":-5943,"t":"O"},{"x":9,"y":-6567,"t":"M"}
  ]
},
"layer": [
  {
    "data": {"name": "vlines"},
    "mark": {"type": "rule", "color": "#000000", "strokeWidth": 1},
    "encoding": {"x": {"field": "x", "type": "quantitative", "scale": {"domain": [0, 60], "nice": false}}}
  },
  {
    "data": {"name": "pts"},
    "encoding": {
      "x": {"field": "x", "type": "quantitative", "scale": {"domain": [0, 60], "nice": false, "zero": false},
            "axis": {"values": [0,10,20,30,40,50,60], "title": "Number of estimated parameters", "titlePadding": 6, "labelFont": "Liberation Serif", "titleFont": "Liberation Serif",
                     "encode": {"labels": {"update": {"font": {"value": "Liberation Serif"}}}}}},
      "y": {"field": "y", "type": "quantitative", "scale": {"domain": [-7400, -5600], "nice": false, "zero": false},
            "axis": {"values": [-7400,-7200,-7000,-6800,-6600,-6400,-6200,-6000,-5800,-5600], "format": "d", "title": "Maximized log likelihood", "titlePadding": 6, "labelFont": "Liberation Serif", "titleFont": "Liberation Serif",
                     "encode": {"labels": {"update": {"font": {"value": "Liberation Serif"}}}}}},
      "color": {"field": "t", "type": "nominal",
        "scale": {"domain": ["P","S","I","A","B","O","M"], "range": ["#000000","#d3d3d3","#808080","#ff7f00","#377eb8","#4daf4a","#a65628"]},
        "legend": {"title": null, "orient": "bottom-right", "offset": 12, "padding": 10, "fillColor": "rgba(255,255,255,0.8)", "strokeColor": "#808080",
          "labelFont": "Liberation Serif", "labelFontSize": 26, "labelColor": "#000000", "labelLimit": 500, "labelOffset": 22, "symbolOffset": 5, "rowPadding": 6,
          "labelExpr": "{'P':'Pareto front','S':'Suboptimal models','I':'Invalid models','A':'AIC-optimal solution','B':'BIC-optimal solution','O':'OOS-optimal solution','M':'Benchmark solution'}[datum.label]"}},
      "shape": {"field": "t", "type": "nominal",
        "scale": {"domain": ["P","S","I","A","B","O","M"], "range": ["M-1,-0.7L-0.7,-1L0,-0.3L0.7,-1L1,-0.7L0.3,0L1,0.7L0.7,1L0,0.3L-0.7,1L-1,0.7L-0.3,0Z","M-1,-0.7L-0.7,-1L0,-0.3L0.7,-1L1,-0.7L0.3,0L1,0.7L0.7,1L0,0.3L-0.7,1L-1,0.7L-0.3,0Z","circle","circle","circle","circle","circle"]},
        "legend": {"title": null, "orient": "bottom-right", "offset": 12, "padding": 10, "fillColor": "rgba(255,255,255,0.8)", "strokeColor": "#808080",
          "labelFont": "Liberation Serif", "labelFontSize": 26, "labelColor": "#000000", "labelLimit": 500, "labelOffset": 22, "symbolOffset": 5, "rowPadding": 6,
          "labelExpr": "{'P':'Pareto front','S':'Suboptimal models','I':'Invalid models','A':'AIC-optimal solution','B':'BIC-optimal solution','O':'OOS-optimal solution','M':'Benchmark solution'}[datum.label]"}},
      "size": {"field": "t", "type": "nominal",
        "scale": {"type": "ordinal", "domain": ["P","S","I","A","B","O","M"], "range": [144,130,18,324,324,324,324]},
        "legend": {"title": null, "orient": "bottom-right", "offset": 12, "padding": 10, "fillColor": "rgba(255,255,255,0.8)", "strokeColor": "#808080",
          "labelFont": "Liberation Serif", "labelFontSize": 26, "labelColor": "#000000", "labelLimit": 500, "labelOffset": 22, "symbolOffset": 5, "rowPadding": 6,
          "labelExpr": "{'P':'Pareto front','S':'Suboptimal models','I':'Invalid models','A':'AIC-optimal solution','B':'BIC-optimal solution','O':'OOS-optimal solution','M':'Benchmark solution'}[datum.label]"}}
    },
    "layer": [
      {"transform": [{"filter": "datum.t === 'S'"}], "mark": {"type": "point", "filled": true, "opacity": 1}},
      {"transform": [{"filter": "datum.t === 'I'"}], "mark": {"type": "point", "filled": true, "opacity": 1}},
      {"transform": [{"filter": "datum.t === 'P'"}], "mark": {"type": "point", "filled": true, "opacity": 1}},
      {"transform": [{"filter": "indexof(['A','B','O','M'], datum.t) >= 0"}], "mark": {"type": "point", "filled": true, "opacity": 1}},
      {"transform": [{"filter": "indexof(['A','B','O','M'], datum.t) >= 0"}], "mark": {"type": "point", "filled": true, "opacity": 1},
       "encoding": {"color": {"value": "#ffffff"}, "size": {"value": 90}, "shape": {"value": "M-1,-0.7L-0.7,-1L0,-0.3L0.7,-1L1,-0.7L0.3,0L1,0.7L0.7,1L0,0.3L-0.7,1L-1,0.7L-0.3,0Z"}}}
    ]
  }
]
}
